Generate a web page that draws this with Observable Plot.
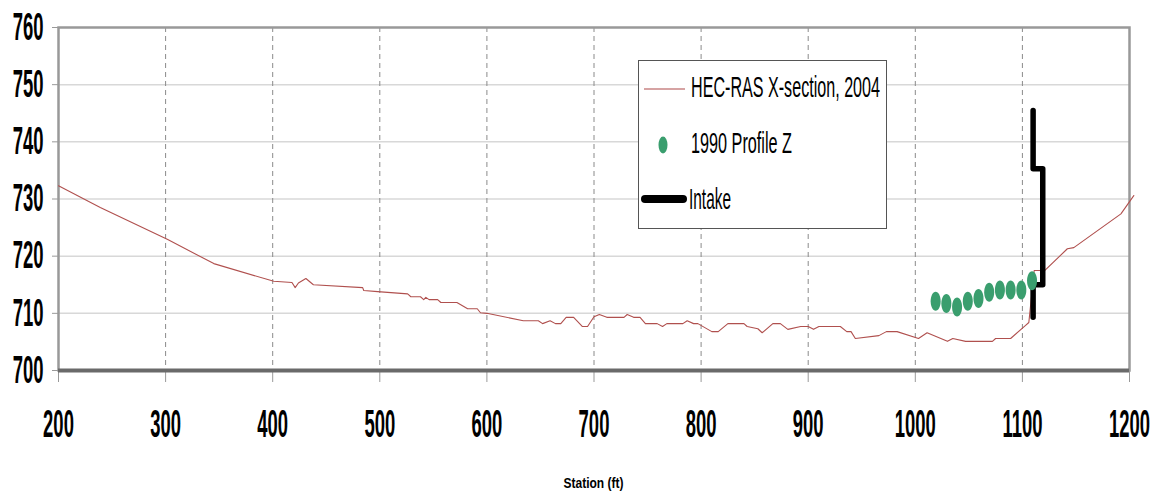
<!DOCTYPE html>
<html><head><meta charset="utf-8">
<script src="https://cdn.jsdelivr.net/npm/d3@7"></script>
<script src="https://cdn.jsdelivr.net/npm/@observablehq/plot@0.6"></script>
<style>
html,body{margin:0;padding:0;background:#fff;}
#wrap{position:relative;width:1155px;height:491px;overflow:hidden;}
</style></head><body><div id="wrap"></div>
<script>
// HEC-RAS cross-section 2004 (station ft, elevation ft)
const station = [200,239,302,345,401,418,421,424,431,438,484,485,498,526,529,538,541,543,546,554,557,572,582,591,594,600,634,648,652,659,664,669,674,681,689,694,700,705,712,728,731,737,743,748,759,764,768,783,787,793,797,810,816,825,840,843,853,857,867,874,881,893,900,905,910,930,936,940,944,966,973,983,1003,1011,1030,1035,1047,1072,1075,1089,1103,1106,1111,1121,1142,1148,1192,1204];
const elevation = [732.3,728.5,722.9,718.7,715.6,715.4,714.5,715.3,716.1,715.0,714.5,714.0,713.8,713.4,712.9,712.9,712.4,712.8,712.4,712.4,711.9,711.9,710.8,710.8,710.1,710.0,708.7,708.7,708.2,708.7,708.2,708.2,709.3,709.3,707.7,707.7,709.4,709.8,709.3,709.3,709.8,709.3,709.3,708.2,708.2,707.7,708.2,708.2,708.7,708.2,708.2,706.8,706.8,708.2,708.2,707.7,707.3,706.6,708.2,708.2,707.2,707.7,707.7,707.2,707.7,707.7,706.8,706.8,705.6,706.1,706.8,706.8,705.6,706.6,705.1,705.6,705.1,705.1,705.6,705.6,707.9,708.4,717.5,717.5,721.3,721.5,727.4,730.6];
// 1990 Profile Z
const profileStation = [1019,1029,1039,1049,1059,1069,1079,1089,1099,1109];
const profileElev = [712.1,711.7,711.1,712.1,712.6,713.7,714.1,714.1,714.1,715.7];
// Intake
const intakeStation = [1110,1110,1119,1119,1110,1110];
const intakeElev = [745.5,735.3,735.3,715.0,715.0,709.3];
// Ticks & labels
const xTicks = [200,300,400,500,600,700,800,900,1000,1100,1200];
const yTicks = [700,710,720,730,740,750,760];
const seriesNames = ["HEC-RAS X-section, 2004","1990 Profile Z","Intake"];
const xLabel = "Station (ft)";

const W = 1155, H = 491;
const colors = {hec:"#b0504e", hecLegend:"#d6a3a3", profile:"#3a9e6e", intake:"#000"};

const xs = station.map((s,i)=>({s, e: elevation[i]}));
const ps = profileStation.map((s,i)=>({s, e: profileElev[i]}));
const is = intakeStation.map((s,i)=>({s, e: intakeElev[i]}));

function ellipseSymbol(rx, ry){
  const k = 0.5523;
  return {draw(ctx){
    ctx.moveTo(rx,0);
    ctx.bezierCurveTo(rx, ry*k, rx*k, ry, 0, ry);
    ctx.bezierCurveTo(-rx*k, ry, -rx, ry*k, -rx, 0);
    ctx.bezierCurveTo(-rx, -ry*k, -rx*k, -ry, 0, -ry);
    ctx.bezierCurveTo(rx*k, -ry, rx, -ry*k, rx, 0);
    ctx.closePath();
  }};
}

const plot = Plot.plot({
  width: W, height: H,
  marginLeft: 58, marginRight: 26, marginTop: 27, marginBottom: 121,
  x: {domain:[200,1200], ticks: xTicks, tickSize: 12, tickPadding: 28, label: null, tickFormat: d=>String(d)},
  y: {domain:[700,760], ticks: yTicks, tickSize: 6, tickPadding: 9, label: null, tickFormat: d=>String(d)},
  style: {fontFamily: "'Liberation Sans', Arial, sans-serif", background:"#fff", color:"#000", overflow:"visible"},
  marks: [
    Plot.ruleY(yTicks.slice(1,-1), {stroke:"#d8d8d8", strokeWidth:1.5}),
    Plot.ruleX(xTicks.slice(1,-1), {stroke:"#8a8a8a", strokeWidth:1, strokeDasharray:"5,4"}),
    Plot.frame({stroke:"#999", strokeWidth:2.5}),
    Plot.ruleY([yTicks[0]], {stroke:"#6a6a6a", strokeWidth:4}),
    Plot.line(xs, {x:"s", y:"e", stroke:colors.hec, strokeWidth:1.1}),
    Plot.line(is, {x:"s", y:"e", stroke:colors.intake, strokeWidth:5.5, strokeLinecap:"round", strokeLinejoin:"round"}),
    Plot.dot(ps, {x:"s", y:"e", fill:colors.profile, stroke:null, symbol: ellipseSymbol(5,9.5)})
  ]
});

const wrap = document.getElementById("wrap");
wrap.appendChild(plot);
const svg = plot.tagName.toLowerCase()==="svg" ? plot : plot.querySelector("svg");

svg.querySelectorAll('g[aria-label^="x-axis"] text, g[aria-label^="y-axis"] text').forEach(t=>{
  t.style.fontSize = "38px";
  t.style.fontWeight = "bold";
  t.setAttribute("fill","#000");
  const L = t.getComputedTextLength();
  t.setAttribute("textLength", (L*0.485).toFixed(1));
  t.setAttribute("lengthAdjust","spacingAndGlyphs");
});
svg.querySelectorAll('g[aria-label^="x-axis"] line, g[aria-label^="x-axis"] path, g[aria-label^="y-axis"] line, g[aria-label^="y-axis"] path').forEach(p=>{
  p.setAttribute("stroke","#999");
  p.style.stroke = "#999";
});

// axis title
d3.select(svg).append("text")
  .attr("x", (58 + (W-26))/2).attr("y", 488)
  .attr("text-anchor","middle")
  .style("font-size","15px").style("font-weight","bold")
  .attr("textLength", 60).attr("lengthAdjust","spacingAndGlyphs")
  .text(xLabel);

// legend overlay
const leg = d3.select(wrap).append("svg")
  .attr("width",W).attr("height",H)
  .style("position","absolute").style("left","0px").style("top","0px")
  .style("font-family","'Liberation Sans', Arial, sans-serif");
leg.append("rect").attr("x",638.5).attr("y",60.5).attr("width",248).attr("height",168)
  .attr("fill","#fff").attr("stroke","#555").attr("stroke-width",1);
leg.append("line").attr("x1",644).attr("x2",685).attr("y1",89).attr("y2",89)
  .attr("stroke",colors.hecLegend).attr("stroke-width",2);
leg.append("ellipse").attr("cx",663).attr("cy",145).attr("rx",4.5).attr("ry",8.5).attr("fill",colors.profile);
leg.append("line").attr("x1",645).attr("x2",683).attr("y1",199).attr("y2",199)
  .attr("stroke",colors.intake).attr("stroke-width",8).attr("stroke-linecap","round");
const legY = [97,153,209], legLen = [189,101,42];
seriesNames.forEach((n,i)=>{
  leg.append("text").attr("x",i===2?689:691).attr("y",legY[i])
    .style("font-size","29px").attr("fill","#000")
    .attr("textLength",legLen[i]).attr("lengthAdjust","spacingAndGlyphs")
    .text(n);
});
</script></body></html>
